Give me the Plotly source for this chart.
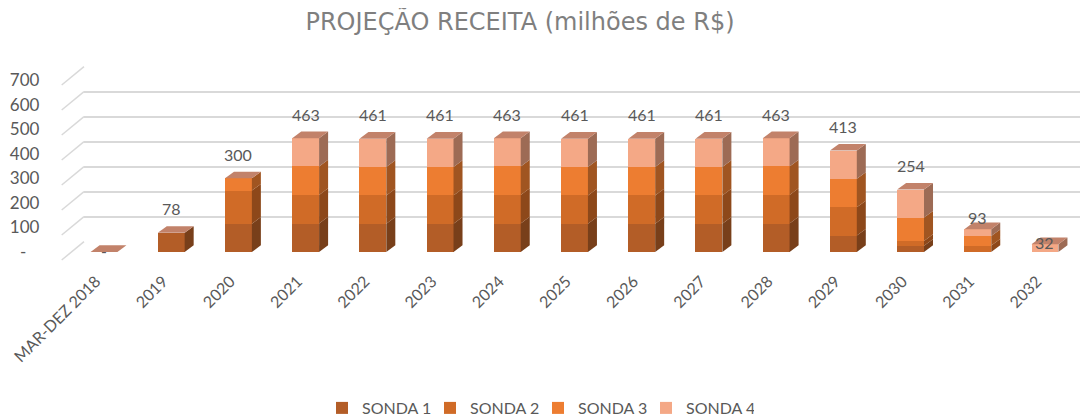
import plotly.graph_objects as go

# ---------------- data ----------------
categories = ["MAR-DEZ 2018", "2019", "2020", "2021", "2022", "2023", "2024",
              "2025", "2026", "2027", "2028", "2029", "2030", "2031", "2032"]
sonda1 = [0, 78, 115, 116, 115, 115, 116, 115, 115, 115, 116, 67, 25, 0, 0]
sonda2 = [0, 0, 135, 116, 115, 115, 116, 115, 115, 115, 116, 115, 20, 26, 0]
sonda3 = [0, 0, 50, 116, 116, 116, 116, 116, 116, 116, 116, 116, 95, 39, 0]
sonda4 = [0, 0, 0, 115, 115, 115, 115, 115, 115, 115, 115, 115, 114, 28, 32]
series_names = ["SONDA 1", "SONDA 2", "SONDA 3", "SONDA 4"]
y_ticks = [0, 100, 200, 300, 400, 500, 600, 700]
y_ticktext = ["-\u00a0\u00a0\u00a0", "100", "200", "300", "400", "500", "600", "700"]

# ---------------- style ----------------
OFF = 8                     # page body margin of the browser
W, H = 1088 - OFF, 420 - OFF
front_colors = ["#b35d27", "#d06b27", "#ed7d31", "#f4a886"]
side_colors = ["#783f1a", "#8d481a", "#a05521", "#9d6b55"]
top_color = "#c2826a"
grid_color = "#d9d9d9"
text_color = "#595959"
font_family = "Lato, Open Sans, sans-serif"

BAR_W = 0.4          # fraction of category slot
DX = 0.134           # depth offset in category units
DY = 27              # depth offset in value units


def px_x(p):
    return (p - OFF) / W


def px_y(p):
    return 1 - (p - OFF) / H


series = [sonda1, sonda2, sonda3, sonda4]
xs = list(range(len(categories)))
totals = [sum(v) for v in zip(*series)]

fig = go.Figure()

# back-wall gridlines (first subplot, drawn beneath bars)
fig.add_trace(go.Scatter(x=[0], y=[0], mode="markers", marker=dict(opacity=0),
                         hoverinfo="skip", showlegend=False,
                         xaxis="x", yaxis="y"))

# front faces (stacked bars)
for name, vals, col in zip(series_names, series, front_colors):
    fig.add_trace(go.Bar(x=xs, y=vals, name=name, marker_color=col,
                         marker_line_width=0, width=BAR_W,
                         xaxis="x2", yaxis="y2"))

# side & top faces computed from the data
shapes = []
for i, x in enumerate(xs):
    xl, xr = x - BAR_W / 2, x + BAR_W / 2
    base = 0
    for vals, scol in zip(series, side_colors):
        v = vals[i]
        if v > 0:
            y0, y1 = base, base + v
            path = (f"M {xr},{y0} L {xr + DX},{y0 + DY} L {xr + DX},{y1 + DY} "
                    f"L {xr},{y1} Z")
            shapes.append(dict(type="path", path=path, xref="x2", yref="y2",
                               fillcolor=scol, line=dict(width=0), layer="above"))
        base += v
    t = totals[i]
    path = (f"M {xl},{t} L {xl + DX},{t + DY} L {xr + DX},{t + DY} L {xr},{t} Z")
    shapes.append(dict(type="path", path=path, xref="x2", yref="y2",
                       fillcolor=top_color, line=dict(width=0), layer="above"))

# side-wall diagonal lines on the left for each gridline
for v in y_ticks:
    gy = 241.7 - v * 0.25
    shapes.append(dict(type="line", xref="paper", yref="paper",
                       x0=px_x(61.7), y0=px_y(gy + 18.3), x1=px_x(84), y1=px_y(gy),
                       line=dict(color=grid_color, width=1.5), layer="below"))

# total labels
annotations = []
for x, t in zip(xs, totals):
    if t >= 100 or 50 <= t < 90:
        shift = 24
    elif t >= 50:
        shift = 12
    else:
        shift = 2
    annotations.append(dict(x=x, y=t, xref="x2", yref="y2",
                            text="-" if t == 0 else f"{t:d}", showarrow=False,
                            yshift=shift, font=dict(size=16, color=text_color,
                                                    family=font_family)))

fig.update_layout(
    width=W, height=H,
    margin=dict(l=0, r=0, t=0, b=0, autoexpand=False),
    paper_bgcolor="white", plot_bgcolor="rgba(0,0,0,0)",
    barmode="stack",
    title=dict(text="PROJEÇÃO RECEITA (milhões de R$)", x=px_x(520), y=px_y(22),
               xanchor="center", yanchor="middle", automargin=False,
               font=dict(family="DejaVu Sans, sans-serif", size=24, color="#7f7f7f")),
    xaxis=dict(domain=[px_x(84), px_x(1080)], range=[0, 1], visible=False,
               fixedrange=True, automargin=False),
    yaxis=dict(domain=[px_y(241.7), px_y(66.7)], range=[0, 700], tickvals=y_ticks,
               showticklabels=False, showgrid=True, gridcolor=grid_color,
               gridwidth=1.5, zeroline=False, showline=False, anchor="x",
               automargin=False),
    xaxis2=dict(domain=[px_x(70.4), px_x(1078.6)], range=[-0.5, 14.5],
                tickvals=xs, ticktext=categories, tickangle=-45,
                showgrid=False, zeroline=False, showline=False, anchor="y2",
                ticklabelstandoff=16, ticklabelshift=-8, automargin=False,
                tickfont=dict(size=16, color=text_color, family=font_family)),
    yaxis2=dict(domain=[px_y(252), px_y(80)], range=[0, 700], tickvals=y_ticks,
                ticktext=y_ticktext, showgrid=False, zeroline=False,
                showline=False, anchor="x2", ticklabelstandoff=30,
                automargin=False,
                tickfont=dict(size=17, color=text_color, family=font_family)),
    legend=dict(orientation="h", x=px_x(538), xanchor="center", y=px_y(408),
                yanchor="middle", entrywidth=63, entrywidthmode="pixels",
                font=dict(size=16, color=text_color, family=font_family),
                traceorder="normal"),
    shapes=shapes,
    annotations=annotations,
    showlegend=True,
)

fig.write_html("out.html")
